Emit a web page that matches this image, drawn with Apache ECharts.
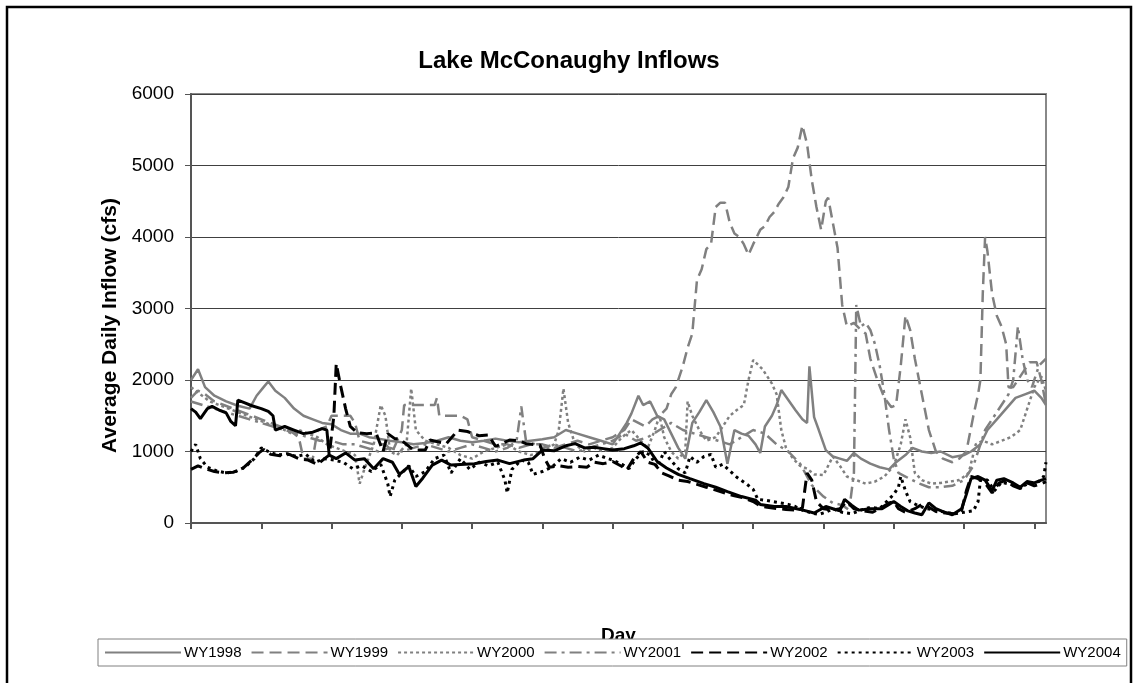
<!DOCTYPE html>
<html>
<head>
<meta charset="utf-8">
<script src="https://cdn.jsdelivr.net/npm/echarts@6/dist/echarts.min.js"></script>
<style>
html,body{margin:0;padding:0;background:#fff;}
#chart{width:1138px;height:683px;}
</style>
</head>
<body>
<div id="chart"></div>
<script>
const titleText = 'Lake McConaughy Inflows';
const yAxisName = 'Average Daily Inflow (cfs)';
const xAxisName = 'Day';
const seriesNames = ['WY1998','WY1999','WY2000','WY2001','WY2002','WY2003','WY2004'];
const yTicks = [0,1000,2000,3000,4000,5000,6000];
const xTickDays = [0,30,60,90,120,150,180,210,240,270,300,330,360];

const wy1998 = [[0,2000],[3,2150],[6,1900],[10,1780],[15,1700],[20,1640],[25,1600],[28,1780],[31,1900],[33,1980],[36,1850],[40,1750],[44,1600],[48,1500],[52,1450],[56,1400],[60,1380],[64,1300],[68,1250],[72,1250],[76,1200],[80,1180],[85,1150],[90,1130],[95,1100],[100,1120],[105,1150],[110,1200],[115,1150],[120,1130],[125,1150],[130,1180],[135,1150],[140,1130],[145,1150],[150,1170],[155,1200],[160,1300],[165,1250],[170,1200],[175,1150],[180,1100],[183,1250],[186,1400],[188,1530],[191,1780],[193,1650],[196,1700],[199,1500],[202,1450],[205,1250],[208,1050],[211,900],[214,1400],[217,1550],[220,1720],[223,1550],[226,1350],[229,830],[232,1300],[235,1250],[238,1220],[241,1100],[243,980],[245,1350],[248,1500],[250,1650],[252,1860],[255,1720],[258,1580],[261,1450],[263,1400],[264,2190],[266,1480],[268,1300],[271,1020],[274,930],[277,900],[280,870],[283,980],[286,900],[290,830],[294,780],[298,750],[301,850],[305,950],[308,1050],[312,1000],[316,980],[320,1000],[325,920],[330,950],[333,1000],[337,1100],[340,1300],[344,1450],[348,1600],[352,1750],[356,1800],[360,1850],[363,1750],[365,1650]];

const wy1999 = [[0,1750],[3,1850],[6,1800],[10,1700],[14,1650],[18,1600],[22,1550],[26,1500],[30,1450],[34,1400],[38,1350],[42,1300],[46,1200],[48,900],[52,900],[54,1300],[58,1350],[60,1500],[65,1500],[68,1500],[70,1400],[72,1150],[78,1100],[83,1100],[86,1000],[90,1300],[91,1650],[96,1650],[100,1650],[104,1650],[105,1750],[106,1500],[115,1500],[118,1450],[120,1200],[125,1150],[130,1100],[135,1100],[140,1050],[145,1100],[150,1100],[155,1050],[160,1100],[165,1150],[170,1100],[175,1150],[180,1200],[185,1300],[188,1450],[191,1400],[194,1350],[197,1450],[200,1500],[203,1600],[205,1800],[207,1900],[210,2200],[212,2450],[214,2650],[216,3400],[218,3550],[220,3830],[222,3900],[224,4420],[226,4480],[228,4480],[230,4200],[232,4050],[234,4000],[236,3900],[238,3750],[240,3900],[243,4100],[245,4150],[247,4280],[249,4350],[251,4470],[253,4560],[255,4700],[257,5100],[259,5250],[261,5560],[263,5300],[265,4800],[267,4420],[269,4100],[271,4500],[272,4550],[274,4200],[276,3850],[278,3050],[280,2750],[283,2800],[286,2700],[288,2650],[290,2300],[293,2000],[296,1750],[299,1620],[301,1650],[303,2200],[305,2900],[307,2700],[309,2300],[312,1800],[315,1300],[318,1000],[321,900],[325,850],[328,900],[331,1000],[334,1500],[336,1800],[337,2000],[338,3200],[339,4000],[340,3800],[342,3200],[344,2900],[346,2750],[348,2500],[349,1900],[351,1900],[355,2100],[358,2250],[361,2250],[363,2000],[365,1650]];

const wy2000 = [[0,1900],[4,1800],[8,1700],[12,1650],[16,1600],[20,1550],[24,1500],[28,1450],[32,1400],[36,1350],[40,1300],[43,1250],[46,1300],[50,1250],[54,1200],[58,1100],[62,1050],[66,1000],[70,950],[72,550],[74,750],[78,1100],[81,1650],[83,1500],[85,1000],[88,950],[92,1100],[94,1880],[96,1300],[100,1150],[105,1100],[110,1050],[115,950],[120,900],[125,1000],[130,1050],[135,1100],[140,1000],[145,950],[150,1000],[155,1100],[157,1300],[159,1880],[161,1400],[164,1100],[168,1000],[172,1050],[176,1000],[180,1050],[184,1200],[188,1300],[192,1150],[195,1050],[198,1300],[200,1500],[202,1200],[205,1000],[208,900],[211,1000],[212,1700],[214,1500],[217,1300],[220,1150],[224,1200],[227,1350],[230,1500],[233,1580],[236,1650],[238,2000],[240,2280],[244,2150],[248,1950],[250,1800],[252,1300],[254,1050],[257,900],[260,800],[263,760],[266,680],[270,670],[274,930],[277,800],[280,650],[284,600],[288,550],[292,580],[296,650],[300,800],[303,1100],[305,1450],[307,1200],[309,700],[312,600],[316,550],[320,560],[324,580],[328,600],[332,700],[335,1100],[338,1150],[342,1100],[346,1150],[350,1200],[354,1300],[357,1600],[360,1900],[363,2050],[365,1850]];

const wy2001 = [[0,1700],[5,1650],[10,1600],[15,1550],[20,1500],[25,1450],[30,1400],[35,1350],[40,1300],[45,1250],[50,1200],[55,1150],[60,1150],[65,1100],[70,1100],[75,1050],[80,1000],[85,1050],[90,1000],[95,1050],[100,1100],[105,1050],[110,1000],[115,1050],[120,1100],[125,1050],[130,1000],[135,1050],[139,1150],[141,1630],[143,1150],[147,1100],[150,1050],[155,1100],[160,1050],[165,1000],[170,1050],[175,1100],[180,1150],[185,1250],[190,1150],[195,1200],[200,1300],[205,1400],[210,1300],[215,1250],[220,1200],[225,1150],[230,1100],[235,1200],[240,1300],[245,1250],[250,1100],[255,1000],[260,830],[265,530],[270,370],[274,280],[278,250],[281,180],[283,700],[284,3050],[286,2750],[288,2800],[290,2700],[292,2500],[294,2200],[296,1800],[298,1300],[300,900],[302,700],[305,650],[308,600],[311,550],[315,500],[320,500],[325,520],[330,600],[334,800],[337,1100],[339,1300],[341,1400],[344,1550],[347,1700],[349,1800],[351,2000],[353,2750],[355,2300],[357,2000],[359,1900],[362,2200],[365,2300]];

const wy2002 = [[0,750],[3,800],[6,760],[10,720],[14,700],[18,710],[22,760],[26,880],[29,980],[31,1030],[34,960],[38,940],[42,960],[46,900],[50,880],[54,820],[57,900],[59,950],[61,1500],[62,2230],[64,1900],[66,1600],[68,1350],[71,1260],[75,1250],[79,1260],[82,1000],[84,1250],[87,1180],[89,1180],[92,1100],[95,1020],[100,1020],[102,1160],[109,1110],[114,1300],[118,1280],[123,1220],[127,1230],[130,1070],[136,1160],[140,1150],[143,1110],[149,1090],[151,900],[153,780],[157,800],[161,780],[165,790],[169,780],[172,850],[176,830],[180,860],[184,790],[186,740],[189,900],[192,1000],[195,850],[198,820],[201,700],[204,660],[208,600],[212,580],[216,540],[220,500],[224,460],[228,420],[232,380],[236,350],[240,300],[243,240],[246,220],[250,200],[254,190],[258,180],[261,210],[263,700],[265,600],[267,300],[270,200],[274,180],[277,200],[280,300],[283,200],[287,170],[291,150],[295,220],[298,280],[300,300],[302,200],[305,150],[309,200],[312,260],[315,220],[318,160],[322,140],[326,130],[329,180],[331,450],[333,650],[336,620],[339,560],[342,420],[345,560],[348,600],[351,520],[354,480],[357,560],[360,520],[363,550],[365,580]];

const wy2003 = [[0,1000],[2,1100],[4,900],[7,780],[11,730],[15,700],[19,720],[23,780],[27,900],[30,1050],[33,1000],[37,950],[41,970],[45,930],[49,960],[53,850],[57,900],[61,880],[65,850],[69,760],[73,800],[77,720],[81,820],[84,550],[85,370],[87,600],[90,700],[93,800],[96,650],[100,720],[104,900],[108,950],[111,700],[115,900],[119,750],[123,850],[127,800],[131,850],[134,600],[135,420],[137,750],[141,880],[144,850],[146,680],[150,720],[154,780],[158,900],[162,850],[166,920],[170,880],[174,950],[178,900],[180,880],[184,820],[187,760],[190,900],[193,1000],[196,950],[199,780],[202,1000],[205,870],[208,760],[211,700],[213,930],[216,850],[219,930],[222,960],[224,780],[227,820],[230,730],[233,640],[237,550],[240,470],[242,330],[245,320],[250,290],[255,260],[258,230],[261,180],[265,140],[268,120],[271,150],[274,200],[278,150],[282,130],[286,180],[290,220],[294,200],[297,300],[300,400],[302,500],[303,650],[305,450],[307,300],[310,250],[314,200],[318,180],[322,150],[326,130],[330,150],[334,170],[336,300],[337,600],[340,600],[343,450],[346,570],[350,540],[354,500],[358,560],[362,580],[364,650],[365,850]];

const wy2004 = [[0,1600],[2,1550],[4,1460],[7,1600],[9,1630],[12,1580],[15,1540],[17,1420],[19,1360],[20,1720],[23,1680],[26,1640],[30,1600],[33,1560],[35,1500],[36,1300],[40,1350],[44,1300],[48,1250],[52,1270],[56,1320],[58,1300],[59,950],[62,900],[66,980],[70,880],[74,900],[78,760],[82,900],[86,850],[89,680],[93,790],[96,510],[99,630],[103,810],[107,880],[111,810],[117,820],[121,830],[126,860],[131,880],[136,830],[142,880],[146,900],[150,1020],[155,1010],[160,1080],[164,1110],[168,1050],[172,1060],[176,1040],[180,1020],[185,1040],[189,1080],[192,1120],[195,1050],[199,860],[203,770],[208,680],[213,620],[219,550],[224,500],[229,440],[235,370],[241,320],[243,260],[249,230],[254,230],[260,190],[266,140],[271,230],[274,200],[277,170],[279,330],[282,250],[285,180],[290,200],[295,200],[298,260],[300,300],[303,230],[306,170],[309,140],[312,115],[315,280],[318,200],[321,160],[325,115],[329,200],[331,400],[333,620],[336,650],[339,600],[342,450],[344,600],[347,620],[351,560],[354,500],[357,580],[360,560],[363,600],[365,620]];

const seriesData = [wy1998, wy1999, wy2000, wy2001, wy2002, wy2003, wy2004];
const seriesColors = ['#808080','#808080','#808080','#808080','#000000','#000000','#000000'];
const seriesDash = ['solid',[12,6],[3,3],[12,5,3,5],[12,6],[3,4],'solid'];
const seriesWidth = [2.5,2.5,2.5,2.5,3,3,3];

const FONT = "'Liberation Sans', Arial, sans-serif";
const chart = echarts.init(document.getElementById('chart'), null, {renderer:'canvas'});

const option = {
  animation: false,
  backgroundColor: '#ffffff',
  title: {
    text: titleText, left: 'center', top: 44,
    textStyle: {fontFamily: FONT, fontWeight: 'bold', fontSize: 24, color: '#000'}
  },
  grid: {left: 191, top: 94, right: 92, bottom: 160, show: true, borderColor: '#888', borderWidth: 2, backgroundColor: '#fff'},
  legend: {
    left: 98, top: 639, orient: 'horizontal',
    data: seriesNames,
    itemWidth: 76, itemHeight: 14, itemGap: 9,
    padding: [6, 6],
    borderColor: '#808080', borderWidth: 1, backgroundColor: '#fff',
    itemStyle: {opacity: 0},
    textStyle: {fontFamily: FONT, fontSize: 15, color: '#000', padding: [0,0,0,-2]},
    z: 10
  },
  xAxis: {
    type: 'value', min: 0, max: 365, interval: 30,
    name: xAxisName, nameLocation: 'middle', nameGap: 103,
    nameTextStyle: {fontFamily: FONT, fontWeight: 'bold', fontSize: 19, color: '#000'},
    axisLine: {show: true, lineStyle: {color: '#555', width: 2}},
    axisTick: {show: true, length: 6, lineStyle: {color: '#555', width: 2}, customValues: xTickDays},
    axisLabel: {show: false},
    splitLine: {show: false}
  },
  yAxis: {
    type: 'value', min: 0, max: 6000, interval: 1000,
    name: yAxisName, nameLocation: 'middle', nameGap: 69,
    nameTextStyle: {fontFamily: FONT, fontWeight: 'bold', fontSize: 21, color: '#000', padding: [0, 34, 0, 0]},
    axisLine: {show: true, lineStyle: {color: '#555', width: 2}},
    axisTick: {show: true, length: 6, lineStyle: {color: '#555', width: 1}},
    axisLabel: {fontFamily: FONT, fontSize: 19, color: '#000', margin: 17, formatter: v => String(v)},
    splitLine: {show: true, lineStyle: {color: '#404040', width: 1}}
  },
  series: seriesNames.map((n, i) => ({
    name: n, type: 'line', data: seriesData[i],
    showSymbol: false, symbol: 'none', smooth: false,
    lineStyle: {color: seriesColors[i], width: seriesWidth[i], type: seriesDash[i]},
    itemStyle: {color: seriesColors[i]},
    z: 2 + i
  }))
};
chart.setOption(option);

// outer chart border
chart.setOption({graphic: [{type: 'rect', shape: {x: 7, y: 7, width: 1124, height: 700}, style: {fill: 'none', stroke: '#000', lineWidth: 2.5}, z: 100, silent: true}]});
</script>
</body>
</html>
